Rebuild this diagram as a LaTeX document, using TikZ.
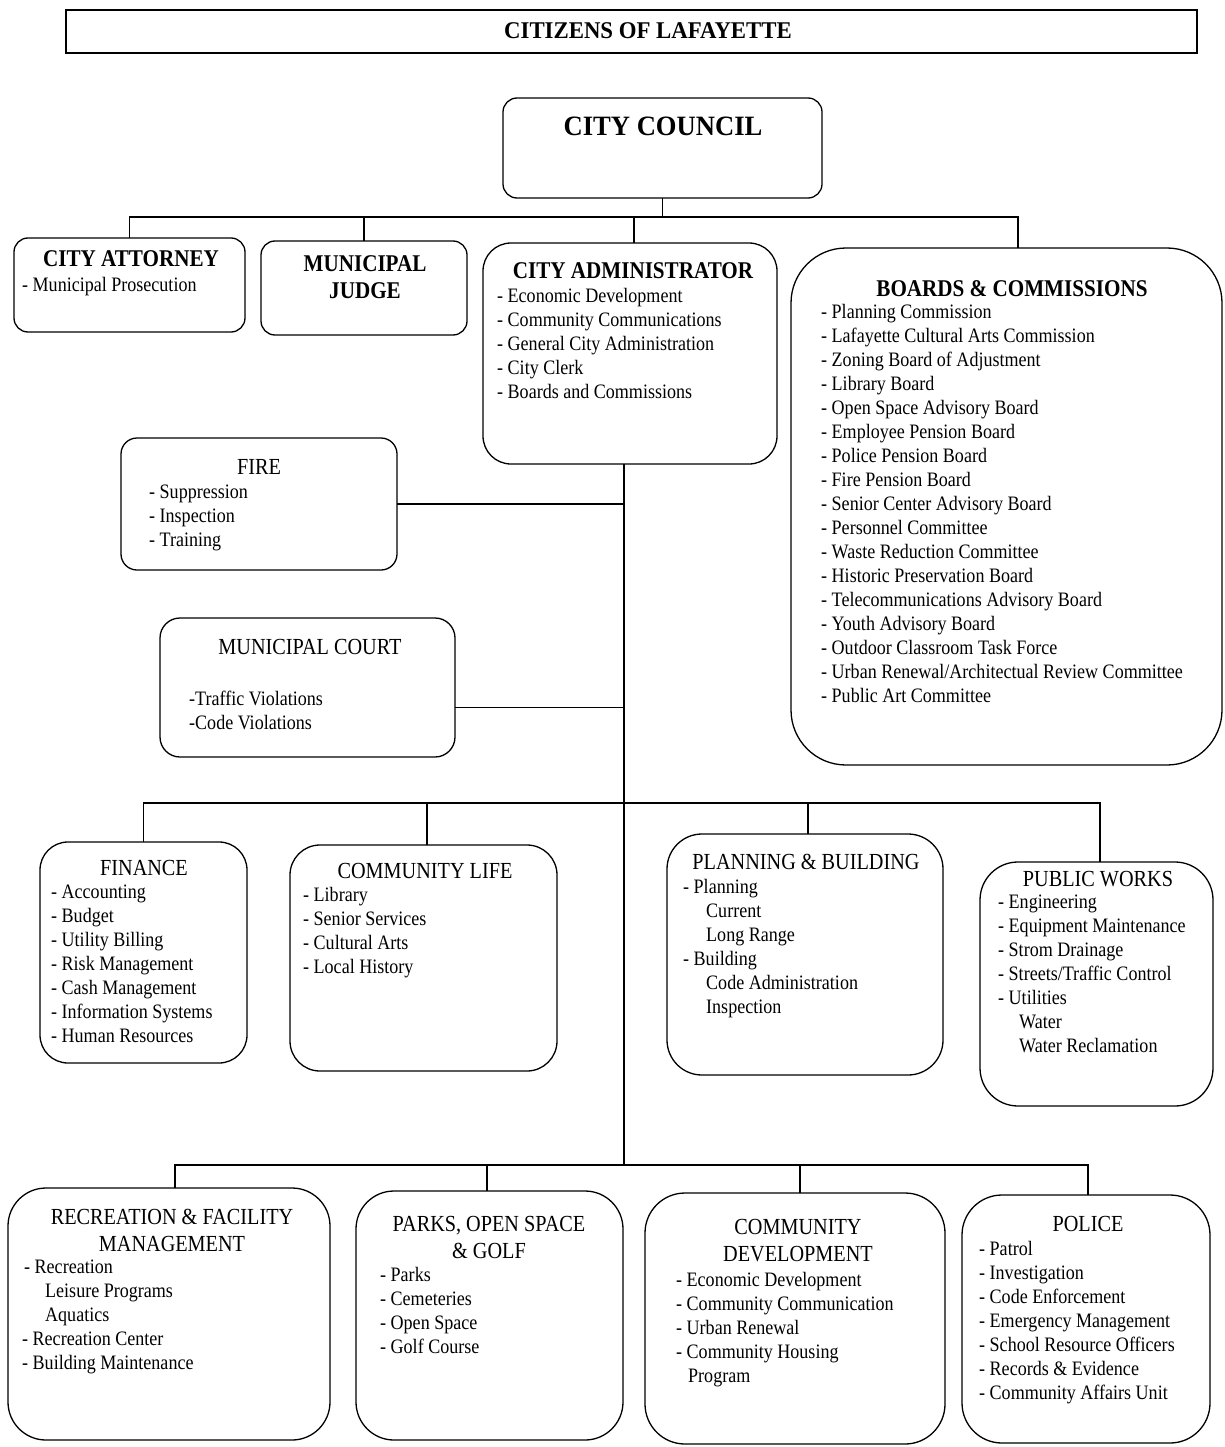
\documentclass[tikz,border=0pt]{standalone}
\usepackage{fontspec}
\setmainfont{Liberation Serif}
\newfontfamily\tr[FakeStretch=0.88]{Liberation Serif}
\newfontfamily\trw[FakeStretch=0.95]{Liberation Serif}
\tikzset{
  box/.style={draw, line width=1.3pt, inner sep=0pt, outer sep=0pt},
  conn/.style={draw, line width=1.1pt},
  head/.style={font=\tr\bfseries\fontsize{24}{27}\selectfont, inner sep=0pt, align=center},
  ttl/.style={font=\tr\fontsize{23}{27}\selectfont, inner sep=0pt, align=center},
  items/.style={font=\tr\fontsize{20.5}{24}\selectfont, inner sep=0pt, align=left, anchor=north west},
}
\newcommand{\ind}{\hspace*{23pt}}
\begin{document}
\begin{tikzpicture}[x=1pt,y=-1pt]
\useasboundingbox (0,0) rectangle (1225,1447);
% boxes
\node[box, minimum width=1131pt, minimum height=43pt] (cit) at (631.5,31.5) {};
\node[box, rounded corners=14pt, minimum width=319pt, minimum height=100pt] (council) at (662.5,148) {};
\node[box, rounded corners=14pt, minimum width=231pt, minimum height=94pt] (att) at (129.5,285) {};
\node[box, rounded corners=14pt, minimum width=206pt, minimum height=94pt] (judge) at (364,288) {};
\node[box, rounded corners=28pt, minimum width=294pt, minimum height=221pt] (admin) at (630,353.5) {};
\node[box, rounded corners=55pt, minimum width=431pt, minimum height=517pt] (boards) at (1006.5,506.5) {};
\node[box, rounded corners=16pt, minimum width=276pt, minimum height=132pt] (fire) at (259,504) {};
\node[box, rounded corners=20pt, minimum width=295pt, minimum height=139pt] (court) at (307.5,687.5) {};
\node[box, rounded corners=28pt, minimum width=207pt, minimum height=221pt] (fin) at (143.5,952.5) {};
\node[box, rounded corners=30pt, minimum width=267pt, minimum height=226pt] (life) at (423.5,958) {};
\node[box, rounded corners=35pt, minimum width=276pt, minimum height=241pt] (plan) at (805,954.5) {};
\node[box, rounded corners=38pt, minimum width=233pt, minimum height=244pt] (pw) at (1096.5,984) {};
\node[box, rounded corners=38pt, minimum width=322pt, minimum height=252pt] (rec) at (169,1314) {};
\node[box, rounded corners=38pt, minimum width=267pt, minimum height=249pt] (parks) at (489.5,1315.5) {};
\node[box, rounded corners=40pt, minimum width=300pt, minimum height=251pt] (cd) at (795,1318.5) {};
\node[box, rounded corners=40pt, minimum width=248pt, minimum height=248pt] (pol) at (1086,1319) {};

% connectors
\coordinate (b1) at (0,217);
\coordinate (b2) at (0,803);
\coordinate (b3) at (0,1165);
\coordinate (trunk) at (624,0);
\draw[conn] (council.south) -- (council.south |- b1);
\draw[conn] (att.north) -- (att.north |- b1) -- ([xshift=11.5pt]boards.north |- b1) -- ([xshift=11.5pt]boards.north);
\draw[conn] (judge.north) -- (judge.north |- b1);
\draw[conn] ([xshift=4pt]admin.north) -- ([xshift=4pt]admin.north |- b1);
\draw[conn] (trunk |- admin.south) -- (trunk |- b3);
\draw[conn] (fire.east) -- (fire.east -| trunk);
\draw[conn] ([yshift=-20pt]court.east) -- ([yshift=-20pt]court.east -| trunk);
\draw[conn] (fin.north) -- (fin.north |- b2) -- ([xshift=3.5pt]pw.north |- b2) -- ([xshift=3.5pt]pw.north);
\draw[conn] ([xshift=3.5pt]life.north) -- ([xshift=3.5pt]life.north |- b2);
\draw[conn] ([xshift=3pt]plan.north) -- ([xshift=3pt]plan.north |- b2);
\draw[conn] ([xshift=6pt]rec.north) -- ([xshift=6pt]rec.north |- b3) -- ([xshift=2pt]pol.north |- b3) -- ([xshift=2pt]pol.north);
\draw[conn] ([xshift=-2.5pt]parks.north) -- ([xshift=-2.5pt]parks.north |- b3);
\draw[conn] ([xshift=5pt]cd.north) -- ([xshift=5pt]cd.north |- b3);

% texts
\node[font=\trw\bfseries\fontsize{24}{27}\selectfont, inner sep=0pt] (citt) at (648,31) {CITIZENS OF LAFAYETTE};
\node[font=\trw\bfseries\fontsize{28}{30}\selectfont, inner sep=0pt] (councilt) at (663,126) {CITY COUNCIL};

\node[head] (attt) at (131,259) {CITY ATTORNEY};
\node[items] (atti) at (22,277) {- Municipal Prosecution};

\node[head] (judget) at (365,277) {MUNICIPAL\\JUDGE};

\node[head] (admint) at (633,271) {CITY ADMINISTRATOR};
\node[items] (admini) at (497,288) {- Economic Development\\- Community Communications\\- General City Administration\\- City Clerk\\- Boards and Commissions};

\node[head] (boardst) at (1012,289) {BOARDS \& COMMISSIONS};
\node[items] (boardsi) at (821,304) {- Planning Commission\\- Lafayette Cultural Arts Commission\\- Zoning Board of Adjustment\\- Library Board\\- Open Space Advisory Board\\- Employee Pension Board\\- Police Pension Board\\- Fire Pension Board\\- Senior Center Advisory Board\\- Personnel Committee\\- Waste Reduction Committee\\- Historic Preservation Board\\- Telecommunications Advisory Board\\- Youth Advisory Board\\- Outdoor Classroom Task Force\\- Urban Renewal/Architectual Review Committee\\- Public Art Committee};

\node[ttl] (firet) at (259,467) {FIRE};
\node[items] (firei) at (149,485) {- Suppression\\- Inspection\\- Training};

\node[ttl] (courtt) at (310,647) {MUNICIPAL COURT};
\node[items] (courti) at (189,691) {-Traffic Violations\\-Code Violations};

\node[ttl] (fint) at (144,868) {FINANCE};
\node[items] (fini) at (51,885) {- Accounting\\- Budget\\- Utility Billing\\- Risk Management\\- Cash Management\\- Information Systems\\- Human Resources};

\node[ttl] (lifet) at (425,871) {COMMUNITY LIFE};
\node[items] (lifei) at (303,887) {- Library\\- Senior Services\\- Cultural Arts\\- Local History};

\node[ttl] (plant) at (806,862) {PLANNING \& BUILDING};
\node[items] (plani) at (683,879) {- Planning\\\ind Current\\\ind Long Range\\- Building\\\ind Code Administration\\\ind Inspection};

\node[ttl] (pwt) at (1098,879) {PUBLIC WORKS};
\node[items] (pwi) at (998,895) {- Engineering\\- Equipment Maintenance\\- Strom Drainage\\- Streets/Traffic Control\\- Utilities\\\hspace*{21pt}Water\\\hspace*{21pt}Water Reclamation};

\node[ttl] (rect) at (172,1230) {RECREATION \& FACILITY\\MANAGEMENT};
\node[items] (reci) at (22,1260) {\hspace*{2pt}- Recreation\\\ind Leisure Programs\\\ind Aquatics\\- Recreation Center\\- Building Maintenance};

\node[ttl] (parkst) at (489,1237) {PARKS, OPEN SPACE\\\& GOLF};
\node[items] (parksi) at (380,1267) {- Parks\\- Cemeteries\\- Open Space\\- Golf Course};

\node[ttl] (cdt) at (798,1241) {COMMUNITY\\DEVELOPMENT};
\node[items] (cdi) at (676,1272) {- Economic Development\\- Community Communication\\- Urban Renewal\\- Community Housing\\\hspace*{12pt}Program};

\node[ttl] (polt) at (1088,1224) {POLICE};
\node[items] (poli) at (979,1241) {- Patrol\\- Investigation\\- Code Enforcement\\- Emergency Management\\- School Resource Officers\\- Records \& Evidence\\- Community Affairs Unit};
\end{tikzpicture}
\end{document}
